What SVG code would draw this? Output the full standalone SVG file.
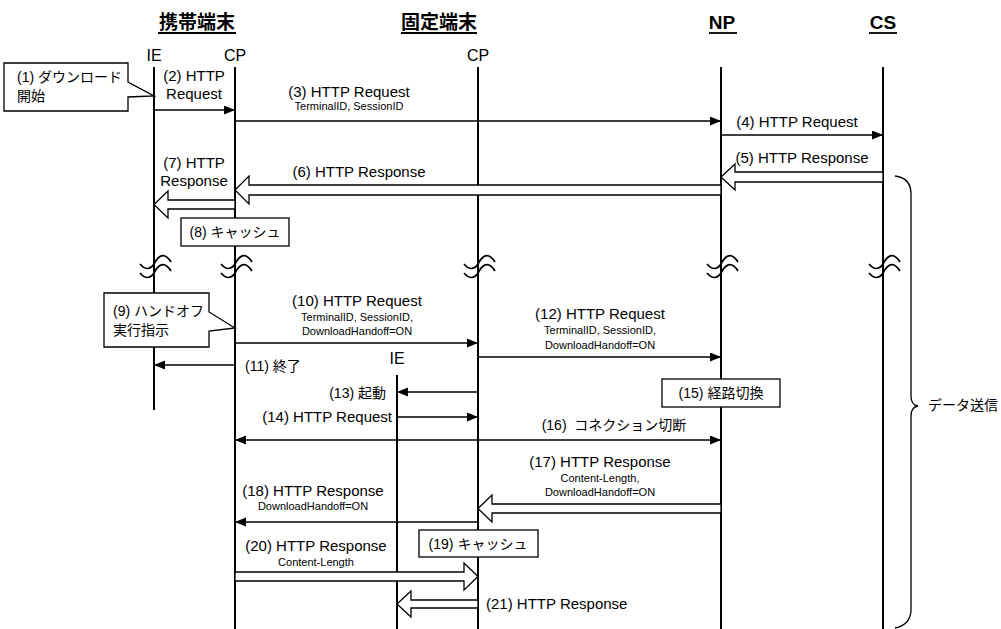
<svg xmlns="http://www.w3.org/2000/svg" xmlns:xlink="http://www.w3.org/1999/xlink" width="1001" height="629" viewBox="0 0 1001 629">
<style>
text{font-family:"Liberation Sans","Noto Sans CJK JP",sans-serif;fill:#000}
.hd{font-size:19px;font-weight:bold;text-anchor:middle}
.lb{font-size:16px;text-anchor:middle}
.m{font-size:15px;text-anchor:middle}
.s{font-size:11px;text-anchor:middle}
.jp{font-size:14px}
.end{text-anchor:end}
.st{text-anchor:start}
.mid{text-anchor:middle}
.life{stroke:#000;stroke-width:2;fill:none}
.ar{stroke:#000;stroke-width:1.3;fill:none}
.hol{stroke:#000;stroke-width:1.3;fill:#fff}
.box{stroke:#000;stroke-width:1.3;fill:#fff}
.ul{stroke:#000;stroke-width:1.8}
.brk{stroke:#000;stroke-width:1.7;fill:none}
</style>
<defs>
<marker id="ah" markerUnits="userSpaceOnUse" markerWidth="12" markerHeight="10" refX="11" refY="4.5" orient="auto-start-reverse">
<path d="M0,0 L11,4.5 L0,9 z" fill="#000"/>
</marker>
<g id="brkmark">
<path class="brk" d="M-14,3 C-9,9 -4,9 0,3 C4,-5 10,-10 17,1"/>
<path class="brk" d="M-14,12 C-9,18 -4,18 0,12 C4,4 10,-1 17,10"/>
</g>
</defs>
<rect width="1001" height="629" fill="#fff"/>

<g id="mobile">
<text class="hd" x="197" y="29">携帯端末</text>
<line class="ul" x1="158" y1="33" x2="236" y2="33"/>
<g id="mobile-ie">
<text class="lb" x="154" y="61">IE</text>
<line class="life" x1="154" y1="67" x2="154" y2="410"/>
</g>
<g id="mobile-cp">
<text class="lb" x="235" y="61">CP</text>
<line class="life" x1="235" y1="67" x2="235" y2="629"/>
</g>
</g>

<g id="fixed">
<text class="hd" x="439" y="29">固定端末</text>
<line class="ul" x1="401" y1="33" x2="477" y2="33"/>
<g id="fixed-cp">
<text class="lb" x="478" y="61">CP</text>
<line class="life" x1="478" y1="67" x2="478" y2="629"/>
</g>
<g id="fixed-ie">
<text class="lb" x="397" y="364">IE</text>
<line class="life" x1="397" y1="375" x2="397" y2="629"/>
</g>
</g>

<g id="np">
<text class="hd" x="722" y="29">NP</text>
<line class="ul" x1="709" y1="33" x2="737" y2="33"/>
<line class="life" x1="721" y1="67" x2="721" y2="629"/>
</g>

<g id="cs">
<text class="hd" x="883" y="29">CS</text>
<line class="ul" x1="869" y1="33" x2="897" y2="33"/>
<line class="life" x1="883" y1="67" x2="883" y2="629"/>
</g>

<g id="breaks">
<use xlink:href="#brkmark" x="154" y="261"/>
<use xlink:href="#brkmark" x="235" y="261"/>
<use xlink:href="#brkmark" x="478" y="261"/>
<use xlink:href="#brkmark" x="721" y="261"/>
<use xlink:href="#brkmark" x="883" y="261"/>
</g>

<g id="connectors">
<line class="ar" x1="154" y1="110" x2="235" y2="110" marker-end="url(#ah)"/>
<line class="ar" x1="235" y1="121" x2="721" y2="121" marker-end="url(#ah)"/>
<line class="ar" x1="721" y1="135" x2="883" y2="135" marker-end="url(#ah)"/>
<polygon class="hol" points="883,172 735,172 735,164 721,177 735,190 735,182 883,182"/>
<polygon class="hol" points="721,185 249,185 249,176 235,190 249,204 249,195 721,195"/>
<polygon class="hol" points="235,200 168,200 168,191 154,204.5 168,218 168,209 235,209"/>
<line class="ar" x1="235" y1="343" x2="478" y2="343" marker-end="url(#ah)"/>
<line class="ar" x1="235" y1="365" x2="154" y2="365" marker-end="url(#ah)"/>
<line class="ar" x1="478" y1="357" x2="721" y2="357" marker-end="url(#ah)"/>
<line class="ar" x1="478" y1="392" x2="397" y2="392" marker-end="url(#ah)"/>
<line class="ar" x1="397" y1="417" x2="478" y2="417" marker-end="url(#ah)"/>
<line class="ar" x1="235" y1="440" x2="721" y2="440" marker-start="url(#ah)" marker-end="url(#ah)"/>
<polygon class="hol" points="721,504 492,504 492,495 478,508.5 492,522 492,513 721,513"/>
<line class="ar" x1="478" y1="522" x2="235" y2="522" marker-end="url(#ah)"/>
<polygon class="hol" points="235,572 464,572 464,563 478,576.5 464,590 464,581 235,581"/>
<polygon class="hol" points="478,600 411,600 411,591 397,604 411,617 411,608 478,608"/>
<path class="ar" stroke-width="1.6" d="M895,176 Q911,178 911,194 L911,396 Q911,405 918,406 Q911,407 911,416 L911,609 Q911,625 895,628"/>
</g>

<g id="labels">
<text class="m" x="194" y="81">(2) HTTP</text>
<text class="m" x="194" y="99">Request</text>
<text class="m" x="349" y="97">(3) HTTP Request</text>
<text class="s" x="349" y="110">TerminalID, SessionID</text>
<text class="m" x="797" y="127">(4) HTTP Request</text>
<text class="m" x="802" y="163">(5) HTTP Response</text>
<text class="m" x="359" y="177">(6) HTTP Response</text>
<text class="m" x="194" y="168">(7) HTTP</text>
<text class="m" x="194" y="186">Response</text>
<text class="m" x="357" y="306">(10) HTTP Request</text>
<text class="s" x="357" y="321">TerminalID, SessionID,</text>
<text class="s" x="357" y="335">DownloadHandoff=ON</text>
<text class="jp" x="245" y="371">(11) 終了</text>
<text class="m" x="600" y="319">(12) HTTP Request</text>
<text class="s" x="600" y="334">TerminalID, SessionID,</text>
<text class="s" x="600" y="349">DownloadHandoff=ON</text>
<text class="jp end" x="386" y="398">(13) 起動</text>
<text class="m end" x="392" y="422">(14) HTTP Request</text>
<text class="jp mid" x="614" y="430" font-size="15" xml:space="preserve">(16)  コネクション切断</text>
<text class="m" x="600" y="467">(17) HTTP Response</text>
<text class="s" x="600" y="482">Content-Length,</text>
<text class="s" x="600" y="496">DownloadHandoff=ON</text>
<text class="m" x="313" y="496">(18) HTTP Response</text>
<text class="s" x="313" y="510">DownloadHandoff=ON</text>
<text class="m" x="316" y="551">(20) HTTP Response</text>
<text class="s" x="316" y="566">Content-Length</text>
<text class="m st" x="486" y="609">(21) HTTP Response</text>
<text class="jp" x="928" y="410">データ送信</text>
</g>

<g id="note1">
<polygon class="box" points="4,63 128,63 128,82 154,96 128,97 128,111 4,111"/>
<text class="jp" x="17" y="82">(1) ダウンロード</text>
<text class="jp" x="17" y="101">開始</text>
</g>
<g id="note8">
<rect class="box" x="181" y="218" width="108" height="28"/>
<text class="jp mid" x="235" y="237">(8) キャッシュ</text>
</g>
<g id="note9">
<polygon class="box" points="104,293 209,293 209,312 235,328 209,331 209,347 104,347"/>
<text class="jp" x="113" y="316">(9) ハンドオフ</text>
<text class="jp" x="113" y="335">実行指示</text>
</g>
<g id="note15">
<rect class="box" x="662" y="379" width="118" height="28"/>
<text class="jp mid" x="721" y="398">(15) 経路切換</text>
</g>
<g id="note19">
<rect class="box" x="419" y="530" width="119" height="27"/>
<text class="jp mid" x="478" y="549">(19) キャッシュ</text>
</g>
</svg>
